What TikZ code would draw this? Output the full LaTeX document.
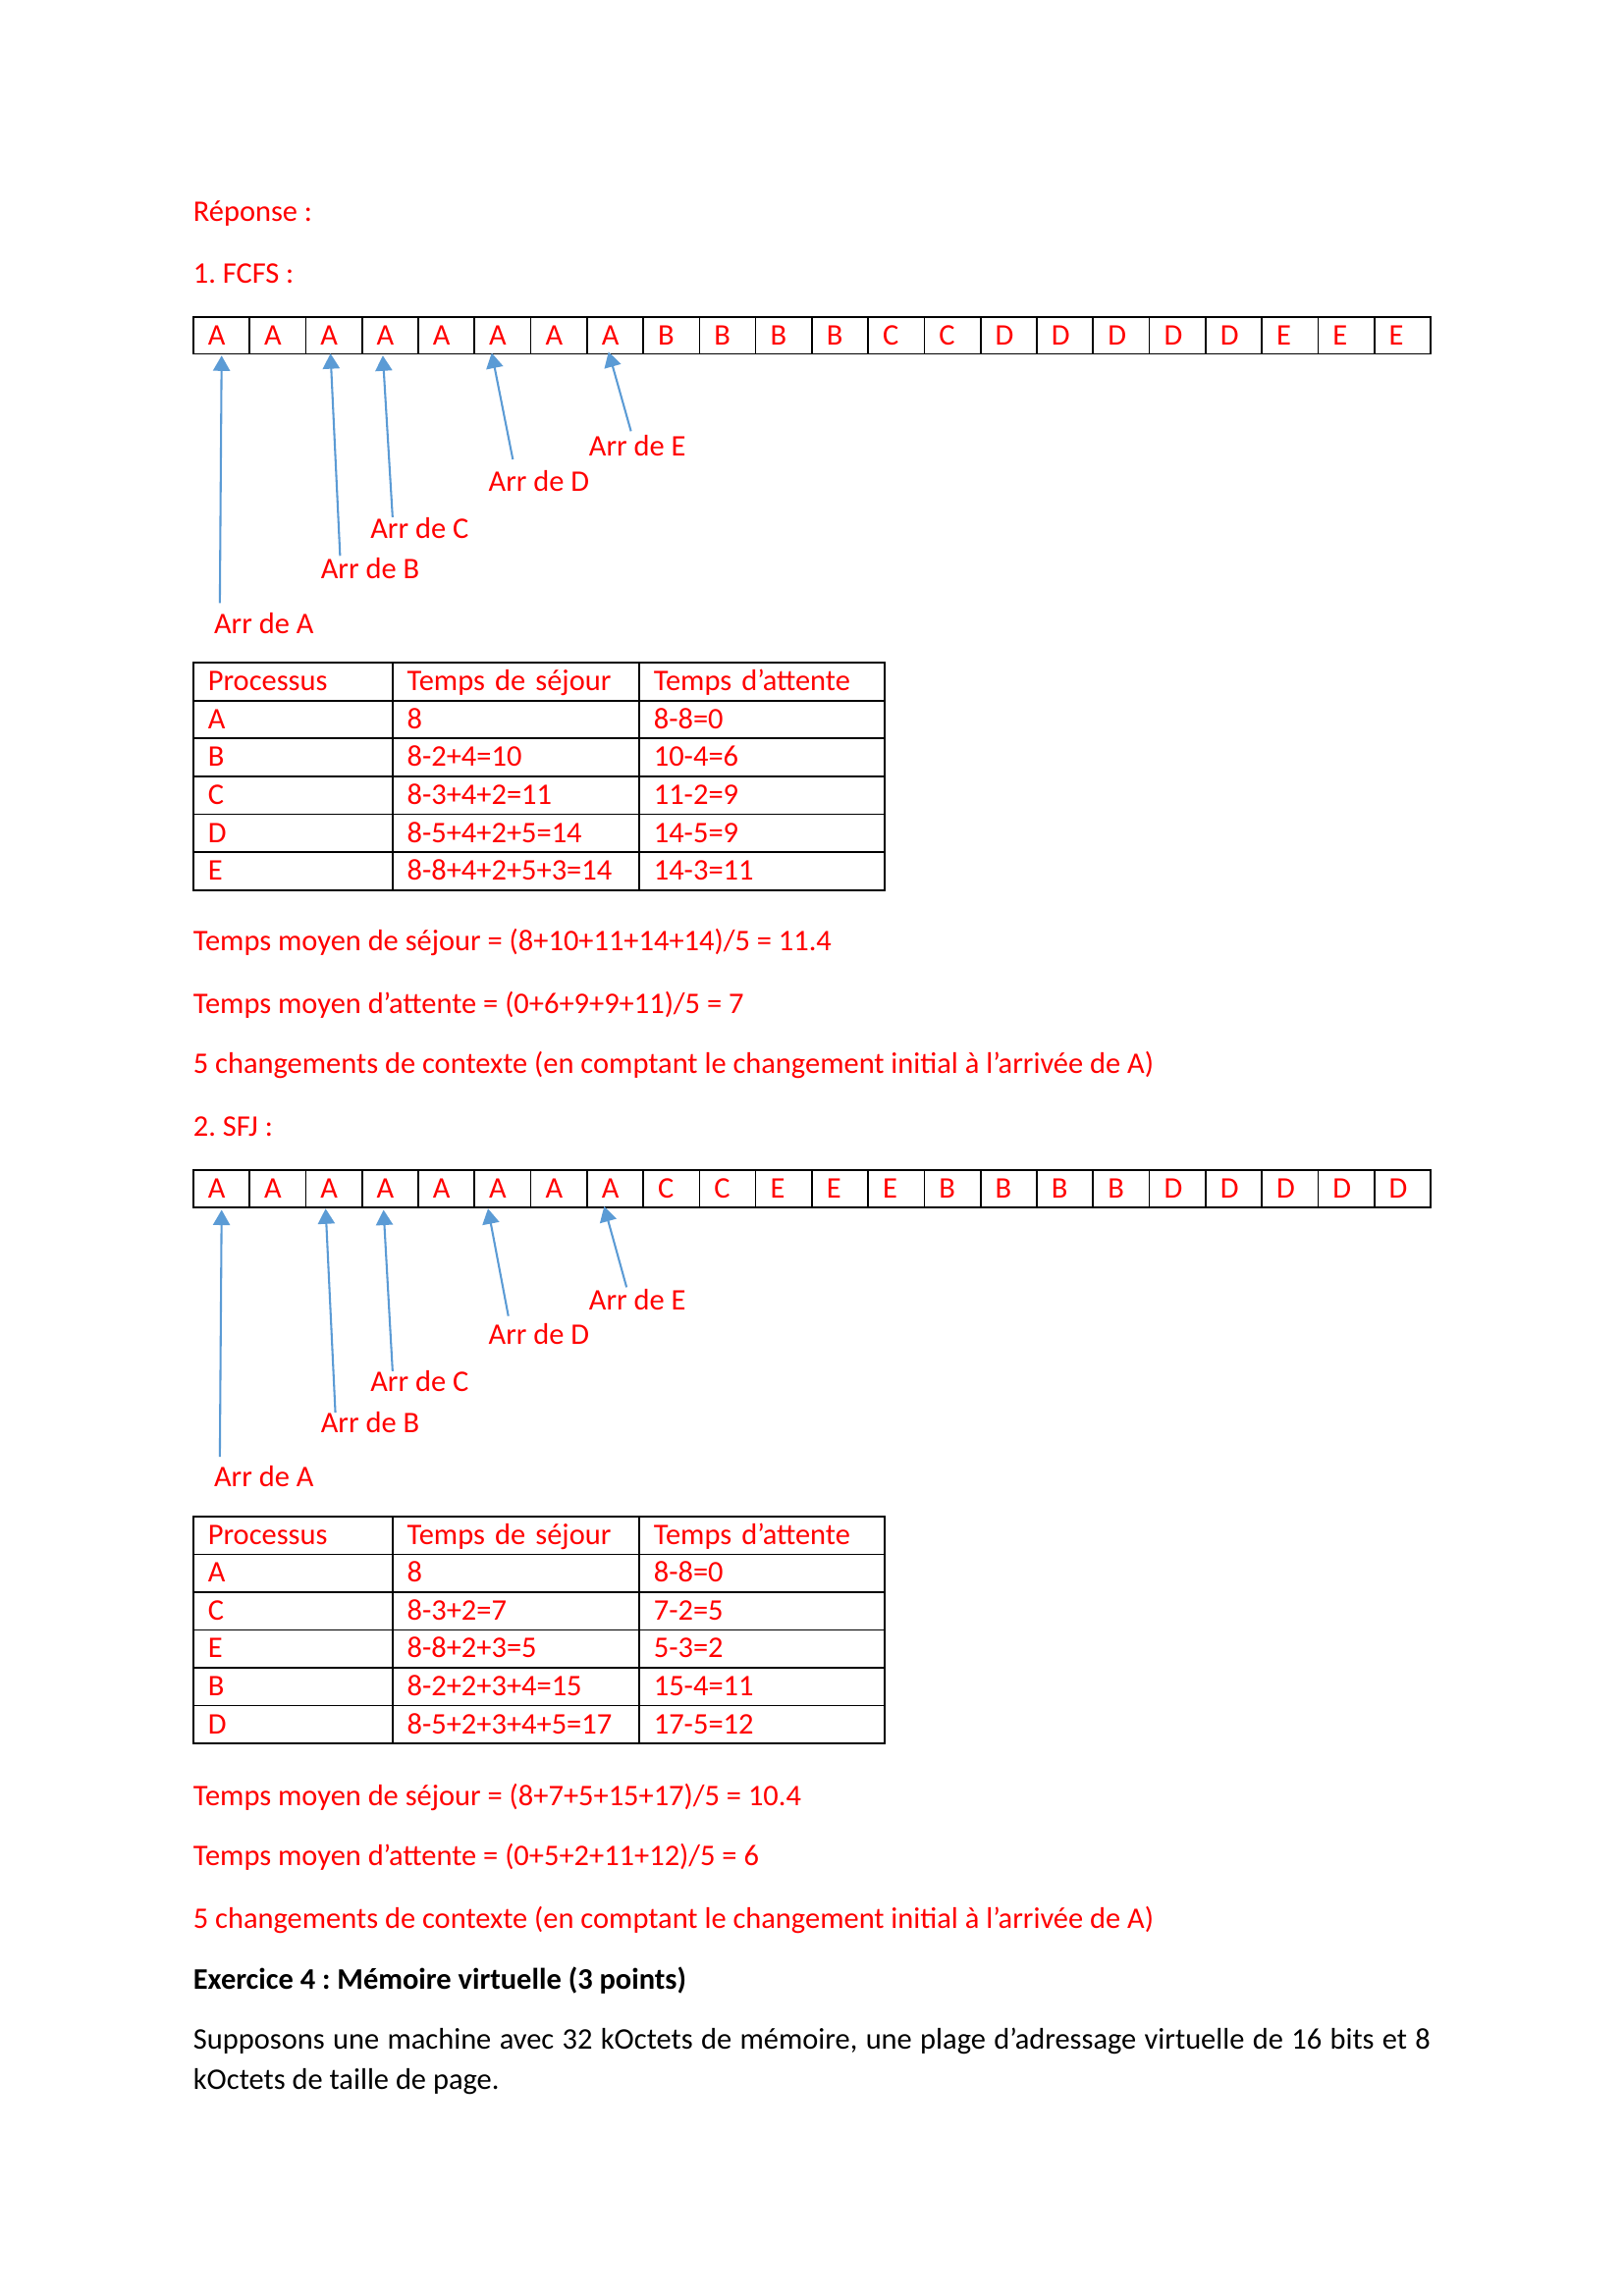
\documentclass[tikz,border=0pt]{standalone}
\usepackage{fontspec}
\setmainfont{Carlito}
\usetikzlibrary{arrows.meta}
\definecolor{txtred}{HTML}{FF0000}
\definecolor{arrblue}{HTML}{5B9BD5}
\frenchspacing
\begin{document}
\begin{tikzpicture}[
  every node/.style={font=\fontsize{11pt}{13.4pt}\selectfont\frenchspacing},
  txt/.style={anchor=base west, inner sep=0pt, outer sep=0pt, text=txtred},
  blk/.style={anchor=base west, inner sep=0pt, outer sep=0pt, text=black},
  tcell/.style={draw=black, line width=0.6pt, anchor=north west, inner xsep=0.19cm, inner ysep=0pt, outer sep=0pt,
    text width=0.34727cm, align=left, text height=0.36cm, text depth=0.118cm, text=txtred},
  pcell/.style={draw=black, line width=0.6pt, anchor=north west, inner xsep=0.19cm, inner ysep=0pt, outer sep=0pt,
    text width=#1, align=left, text height=0.362cm, text depth=0.128cm, text=txtred},
  arr/.style={draw=arrblue, line width=0.75pt, -{Triangle[width=6.2pt,length=5.6pt]}}
]
\useasboundingbox (0,0) rectangle (21,-29.7);
\fill[white] (0,0) rectangle (21,-29.7);

% ---------- header ----------
\node[txt] (rep) at (2.5,-2.858) {Réponse :};
\node[txt] (fcfs) at (2.5,-3.663) {1. FCFS :};

% ---------- FCFS timeline ----------
\foreach \l [count=\i] in {A,A,A,A,A,A,A,A,B,B,B,B,C,C,D,D,D,D,D,E,E,E}
  \node[tcell] (f\i) at ({2.5+(\i-1)*0.72727},-4.099) {\l};

\node[txt] (fAl) at (2.769,-8.194) {Arr de A};
\node[txt] (fBl) at (4.149,-7.487) {Arr de B};
\node[txt] (fCl) at (4.791,-6.967) {Arr de C};
\node[txt] (fDl) at (6.319,-6.351) {Arr de D};
\node[txt] (fEl) at (7.617,-5.894) {Arr de E};

\coordinate (fAt) at (2.843,-7.800); \coordinate (fAh) at (2.866,-4.600);
\coordinate (fBt) at (4.398,-7.190); \coordinate (fBh) at (4.274,-4.573);
\coordinate (fCt) at (5.077,-6.691); \coordinate (fCh) at (4.951,-4.600);
\coordinate (fDt) at (6.632,-5.942); \coordinate (fDh) at (6.359,-4.565);
\coordinate (fEt) at (8.160,-5.578); \coordinate (fEh) at (7.870,-4.550);
\draw[arr] (fAt) -- (fAh);
\draw[arr] (fBt) -- (fBh);
\draw[arr] (fCt) -- (fCh);
\draw[arr] (fDt) -- (fDh);
\draw[arr] (fEt) -- (fEh);

% ---------- FCFS table ----------
\foreach \p/\s/\a [count=\r from 0] in {Processus/Temps de séjour/Temps d’attente,
    A/8/8-8=0, B/8-2+4=10/10-4=6, C/8-3+4+2=11/11-2=9, D/8-5+4+2+5=14/14-5=9, E/8-8+4+2+5+3=14/14-3=11}{
  \node[pcell=2.195cm] (ta\r) at (2.5,{-8.572-\r*0.4902}) {\p};
  \node[pcell=2.81cm]  (tb\r) at (5.075,{-8.572-\r*0.4902}) {\s};
  \node[pcell=2.798cm] (tc\r) at (8.265,{-8.572-\r*0.4902}) {\a};
}

\node[txt] (fm1) at (2.5,-12.301) {Temps moyen de séjour = (8+10+11+14+14)/5 = 11.4};
\node[txt] (fm2) at (2.5,-13.107) {Temps moyen d’attente = (0+6+9+9+11)/5 = 7};
\node[txt] (fm3) at (2.5,-13.890) {5 changements de contexte (en comptant le changement initial à l’arrivée de A)};

% ---------- SFJ ----------
\node[txt] (sfj) at (2.5,-14.694) {2. SFJ :};
\foreach \l [count=\i] in {A,A,A,A,A,A,A,A,C,C,E,E,E,B,B,B,B,D,D,D,D,D}
  \node[tcell] (s\i) at ({2.5+(\i-1)*0.72727},-15.138) {\l};

\node[txt] (sAl) at (2.769,-19.226) {Arr de A};
\node[txt] (sBl) at (4.149,-18.527) {Arr de B};
\node[txt] (sCl) at (4.791,-17.997) {Arr de C};
\node[txt] (sDl) at (6.319,-17.383) {Arr de D};
\node[txt] (sEl) at (7.617,-16.939) {Arr de E};

\coordinate (sAt) at (2.843,-18.845); \coordinate (sAh) at (2.866,-15.650);
\coordinate (sBt) at (4.337,-18.273); \coordinate (sBh) at (4.211,-15.634);
\coordinate (sCt) at (5.077,-17.736); \coordinate (sCh) at (4.960,-15.650);
\coordinate (sDt) at (6.574,-17.023); \coordinate (sDh) at (6.311,-15.634);
\coordinate (sEt) at (8.103,-16.651); \coordinate (sEh) at (7.813,-15.605);
\draw[arr] (sAt) -- (sAh);
\draw[arr] (sBt) -- (sBh);
\draw[arr] (sCt) -- (sCh);
\draw[arr] (sDt) -- (sDh);
\draw[arr] (sEt) -- (sEh);

\foreach \p/\s/\a [count=\r from 0] in {Processus/Temps de séjour/Temps d’attente,
    A/8/8-8=0, C/8-3+2=7/7-2=5, E/8-8+2+3=5/5-3=2, B/8-2+2+3+4=15/15-4=11, D/8-5+2+3+4+5=17/17-5=12}{
  \node[pcell=2.195cm] (ua\r) at (2.5,{-19.615-\r*0.4896}) {\p};
  \node[pcell=2.81cm]  (ub\r) at (5.075,{-19.615-\r*0.4896}) {\s};
  \node[pcell=2.798cm] (uc\r) at (8.265,{-19.615-\r*0.4896}) {\a};
}

\node[txt] (sm1) at (2.5,-23.355) {Temps moyen de séjour = (8+7+5+15+17)/5 = 10.4};
\node[txt] (sm2) at (2.5,-24.138) {Temps moyen d’attente = (0+5+2+11+12)/5 = 6};
\node[txt] (sm3) at (2.5,-24.943) {5 changements de contexte (en comptant le changement initial à l’arrivée de A)};

% ---------- Exercice 4 ----------
\node[blk] (ex4) at (2.5,-25.726) {\bfseries Exercice 4 : Mémoire virtuelle (3 points)};
\node[blk] (sup1) at (2.5,-26.509) {\makebox[16cm][s]{Supposons une machine avec 32 kOctets de mémoire, une plage d’adressage virtuelle de 16 bits et 8}};
\node[blk] (sup2) at (2.5,-27.025) {kOctets de taille de page.};
\end{tikzpicture}
\end{document}
